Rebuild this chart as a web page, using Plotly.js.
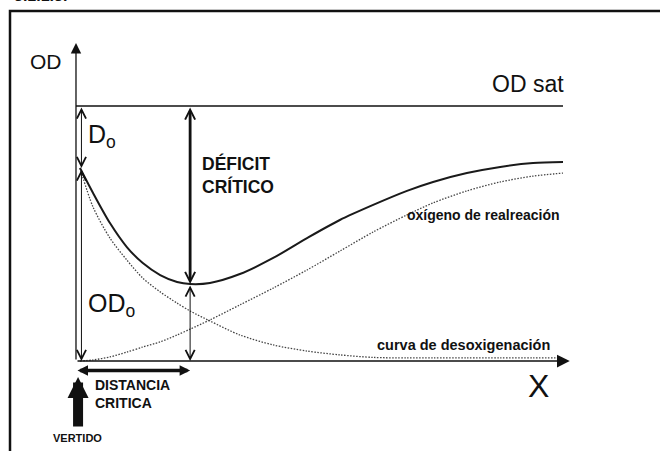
<!doctype html>
<html>
<head>
<meta charset="utf-8" />
<script src="https://cdn.plot.ly/plotly-3.0.1.min.js"></script>
<style>
  html, body { margin:0; padding:0; background:#fff; overflow:hidden; }
  #chart { width:660px; height:451px; }
</style>
</head>
<body>
<div id="chart"></div>
<script>
// Curva de Streeter-Phelps: OD frente a la distancia aguas abajo del vertido.
// Valores leídos a ojo del dibujo (x en unidades de distancia, OD con OD sat = 10).
const distance   = [0, 0.27, 0.62, 0.97, 1.30, 1.66, 2.01, 2.28, 2.69, 3.31, 4.00, 4.70, 5.38, 6.07, 6.77, 7.31, 8.01, 8.70, 9.38, 10.0];
const odCurve    = [7.57, 6.59, 5.41, 4.47, 3.84, 3.37, 3.10, 3.02, 3.06, 3.41, 4.04, 4.82, 5.53, 6.12, 6.67, 7.02, 7.37, 7.61, 7.76, 7.80];
const deoxCurve  = [7.57, 6.04, 4.82, 3.96, 3.25, 2.71, 2.27, 1.96, 1.57, 1.02, 0.63, 0.39, 0.24, 0.14, 0.12, 0.12, 0.12, 0.12, 0.12, 0.12];
const reaerCurve = [0, 0.04, 0.16, 0.35, 0.55, 0.75, 1.02, 1.25, 1.61, 2.20, 2.86, 3.57, 4.31, 5.06, 5.73, 6.20, 6.67, 7.02, 7.25, 7.37];
const OD_SAT = 10;

const OD_0 = odCurve[0];
const iMin = odCurve.indexOf(Math.min(...odCurve));
const X_CRIT = distance[iMin];
const OD_MIN = odCurve[iMin];

const FONT = 'Liberation Sans, Arial, Helvetica, sans-serif';
const INK = '#111';
const X_AXIS0 = -0.083;   // el eje vertical queda un poco a la izquierda del vertido

// flecha sin texto entre (ax,ay) -> (x,y) en coordenadas de datos
function arrow(x, y, ax, ay, o) {
  return Object.assign({
    x, y, ax, ay, xref:'x', yref:'y', axref:'x', ayref:'y',
    text:'', showarrow:true, arrowcolor:INK, font:{ size:1 },
    arrowhead:5, arrowsize:1.8, arrowwidth:1,
  }, o);
}
function label(x, y, text, size, o) {
  return Object.assign({
    x, y, xref:'x', yref:'y', text, showarrow:false,
    font:{ family:FONT, size, color:INK },
  }, o);
}

const DOTS = { color:'#444', width:1.3, dash:'1.5px,1.5px', shape:'spline', smoothing:0.8 };
const traces = [
  { x: distance, y: deoxCurve, type:'scatter', mode:'lines', line:DOTS, hoverinfo:'skip' },
  { x: distance, y: reaerCurve, type:'scatter', mode:'lines', line:DOTS, hoverinfo:'skip' },
  { x: distance, y: odCurve, type:'scatter', mode:'lines', line:{ color:'#1a1a1a', width:2, shape:'spline', smoothing:0.8 }, hoverinfo:'skip' },
];

const annotations = [
  // ejes
  arrow(X_AXIS0, 12.47, X_AXIS0, 0, { arrowhead:2, arrowwidth:1.3, arrowsize:1.6 }),
  arrow(10.14, 0, X_AXIS0, 0, { arrowhead:2, arrowwidth:1.5, arrowsize:1.7 }),
  // Do y ODo
  arrow(0.03, OD_0, 0.03, OD_SAT, { arrowside:'end+start', startarrowhead:5, startarrowsize:1.8 }),
  arrow(0.03, 0, 0.03, OD_0, { arrowside:'end+start', startarrowhead:5, startarrowsize:1.8 }),
  // déficit crítico
  arrow(X_CRIT, OD_MIN, X_CRIT, OD_SAT, { arrowside:'end+start', arrowwidth:2.8, arrowsize:0.7, startarrowhead:5, startarrowsize:0.7 }),
  arrow(X_CRIT, 0, X_CRIT, OD_MIN, { arrowside:'end+start', startarrowhead:5, startarrowsize:1.8 }),
  // distancia crítica
  arrow(X_CRIT, -0.37, X_AXIS0, -0.37, { arrowside:'end+start', arrowhead:2, startarrowhead:2, arrowwidth:3.5, arrowsize:0.6, startarrowsize:0.6 }),
  // vertido
  arrow(-0.04, -0.63, -0.04, -2.63, { arrowhead:2, arrowwidth:10, arrowsize:0.42 }),

  label(-0.70, 11.73, 'OD', 21),
  label(9.28, 10.86, 'OD sat', 23),
  label(0.12, 8.82, 'D<sub>o</sub>', 25, { xanchor:'left' }),
  label(2.48, 7.29, '<b>DÉFICIT<br>CRÍTICO</b>', 17.5, { xanchor:'left', align:'left' }),
  label(9.98, 5.73, '<b>oxígeno de realreación</b>', 14, { xanchor:'right' }),
  label(0.12, 2.2, 'OD<sub>o</sub>', 25, { xanchor:'left' }),
  label(6.11, 0.63, '<b>curva de desoxigenación</b>', 14.5, { xanchor:'left' }),
  label(9.5, -0.98, 'X', 32),
  label(0.27, -1.29, '<b>DISTANCIA<br>CRITICA</b>', 14, { xanchor:'left', align:'left' }),
  label(-0.06, -3.02, '<b>VERTIDO</b>', 11),
  { xref:'paper', yref:'paper', x:12/660, y:1 - 6/451, xanchor:'left', yanchor:'bottom',
    text:'<b>3.1.1.3.</b>', showarrow:false, font:{ family:FONT, size:16, color:INK } },
];

const layout = {
  width:660, height:451, autosize:false,
  margin:{ l:0, r:0, t:0, b:0 },
  paper_bgcolor:'#fff', plot_bgcolor:'#fff',
  showlegend:false,
  xaxis:{ range:[-1.6563, 12.0083], visible:false, fixedrange:true },
  yaxis:{ range:[-3.5294, 14.157], visible:false, fixedrange:true },
  shapes:[
    { type:'rect', xref:'paper', yref:'paper', x0:10/660, x1:1.02, y0:-0.02, y1:1 - 11/451, line:{ color:INK, width:2.5 } },
    { type:'line', xref:'x', yref:'y', x0:X_AXIS0, x1:10.0, y0:OD_SAT, y1:OD_SAT, line:{ color:INK, width:1.5 } },
  ],
  annotations,
};

Plotly.newPlot('chart', traces, layout, { staticPlot:true, displayModeBar:false });
</script>
</body>
</html>
